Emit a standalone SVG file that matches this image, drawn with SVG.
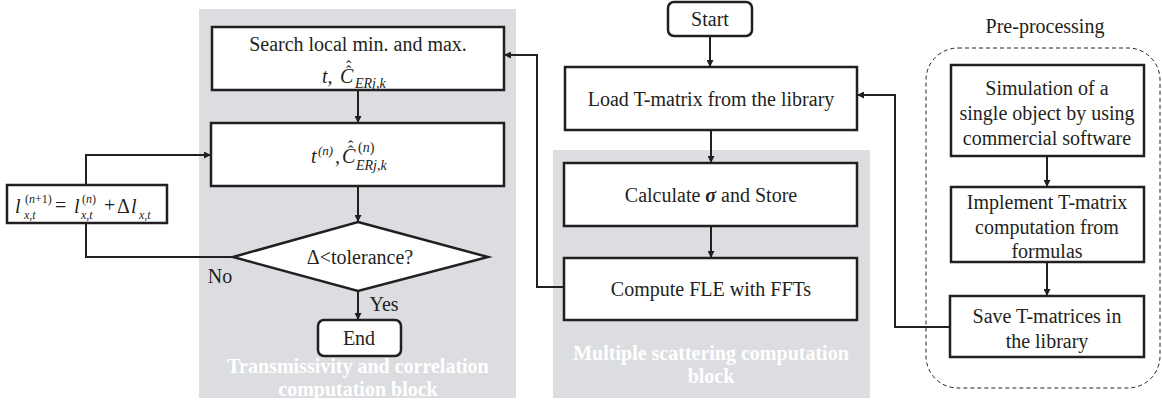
<svg xmlns="http://www.w3.org/2000/svg" width="1162" height="404" viewBox="0 0 1162 404">
<defs>
<marker id="ah" viewBox="0 0 10 10" refX="10" refY="5" markerWidth="7" markerHeight="7" markerUnits="userSpaceOnUse" orient="auto">
<path d="M0,0 L10,5 L0,10 z" fill="#231f20"/>
</marker>
<style>
.blk{fill:#dcdde0;}
.box{fill:#fff;stroke:#231f20;stroke-width:2.5;}
.t{font-family:"Liberation Serif","Times New Roman",serif;font-size:20px;fill:#231f20;text-anchor:middle;}
.m{font-family:"Liberation Serif","Times New Roman",serif;font-style:italic;font-size:20px;fill:#231f20;}
.lbl{font-family:"Liberation Serif","Times New Roman",serif;font-weight:bold;font-size:20px;fill:#fff;text-anchor:middle;}
.c{fill:none;stroke:#231f20;stroke-width:2;}
</style>
</defs>
<rect id="block-transmissivity" class="blk" x="199" y="9" width="317" height="389"/>
<rect id="block-scattering" class="blk" x="553" y="150" width="317" height="248"/>
<text class="lbl" x="358" y="373">Transmissivity and correlation</text>
<text class="lbl" x="358" y="396">computation  block</text>
<text class="lbl" x="711" y="360">Multiple scattering computation</text>
<text class="lbl" x="711" y="383">block</text>
<g id="preprocessing">
<rect x="926" y="48" width="234" height="340" rx="32" fill="none" stroke="#231f20" stroke-width="1" stroke-dasharray="4 3"/>
<text class="t" x="1045" y="33">Pre-processing</text>
</g>
<g id="connectors">
<line class="c" x1="358" y1="90" x2="358" y2="123" marker-end="url(#ah)"/>
<line class="c" x1="358" y1="186" x2="358" y2="222" marker-end="url(#ah)"/>
<line class="c" x1="358" y1="291" x2="358" y2="320" marker-end="url(#ah)"/>
<polyline class="c" points="233,257 86,257 86,223"/>
<polyline class="c" points="86,185 86,155 211,155" marker-end="url(#ah)"/>
<line class="c" x1="710" y1="36" x2="710" y2="67" marker-end="url(#ah)"/>
<line class="c" x1="711" y1="130" x2="711" y2="163" marker-end="url(#ah)"/>
<line class="c" x1="711" y1="226" x2="711" y2="258" marker-end="url(#ah)"/>
<polyline class="c" points="564,287 537,287 537,55 504,55" marker-end="url(#ah)"/>
<polyline class="c" points="950,327 895,327 895,95 857,95" marker-end="url(#ah)"/>
<line class="c" x1="1047" y1="156" x2="1047" y2="187" marker-end="url(#ah)"/>
<line class="c" x1="1047" y1="262" x2="1047" y2="296" marker-end="url(#ah)"/>
<text class="t" x="220" y="283">No</text>
<text class="t" x="384" y="311">Yes</text>
</g>
<g id="search">
<rect class="box" x="212" y="27" width="292" height="63"/>
<text class="t" x="358" y="51">Search local min. and max.</text>
<text class="m"><tspan x="322" y="83">t,</tspan><tspan x="340" y="83">C</tspan><tspan x="346" y="77" font-style="normal" font-size="16">ˆ</tspan><tspan x="346" y="72" font-style="normal" font-size="16">ˆ</tspan><tspan x="355" y="88" font-size="14">ERj,k</tspan></text>
</g>
<g id="update">
<rect class="box" x="211" y="123" width="293" height="63"/>
<text class="m"><tspan x="311" y="163">t</tspan><tspan x="318" y="155" font-size="13">(n)</tspan><tspan x="335" y="163">,</tspan><tspan x="342" y="163">C</tspan><tspan x="348" y="157" font-style="normal" font-size="16">ˆ</tspan><tspan x="348" y="152" font-style="normal" font-size="16">ˆ</tspan><tspan x="358" y="152" font-size="14"><tspan font-style="normal">(</tspan>n<tspan font-style="normal">)</tspan></tspan><tspan x="356" y="170" font-size="14">ERj,k</tspan></text>
</g>
<g id="formula">
<rect class="box" x="7" y="185" width="160" height="38"/>
<text class="m"><tspan x="15" y="213">l</tspan><tspan x="25" y="203" font-size="12"><tspan font-style="normal">(</tspan>n<tspan font-style="normal">+1)</tspan></tspan><tspan x="24" y="219" font-size="12">x,t</tspan><tspan x="55" y="212" font-style="normal">=</tspan><tspan x="74" y="213">l</tspan><tspan x="82" y="203" font-size="12"><tspan font-style="normal">(</tspan>n<tspan font-style="normal">)</tspan></tspan><tspan x="81" y="219" font-size="12">x,t</tspan><tspan x="104" y="212" font-style="normal">+</tspan><tspan x="117" y="213" font-style="normal">Δ</tspan><tspan x="131" y="213">l</tspan><tspan x="139" y="219" font-size="12">x,t</tspan></text>
</g>
<g id="decision">
<polygon class="box" points="358,222 488,257 358,291 233,257"/>
<text class="t" x="360" y="264">Δ&lt;tolerance?</text>
</g>
<g id="end">
<rect class="box" x="318" y="320" width="83" height="36" rx="6"/>
<text class="t" x="359" y="345">End</text>
</g>
<g id="start">
<rect class="box" x="668" y="2" width="84" height="34" rx="6"/>
<text class="t" x="710" y="26">Start</text>
</g>
<g id="load">
<rect class="box" x="565" y="67" width="292" height="63"/>
<text class="t" x="711" y="106">Load T-matrix from the library</text>
</g>
<g id="calculate">
<rect class="box" x="564" y="163" width="293" height="63"/>
<text class="t" x="711" y="202">Calculate <tspan font-weight="bold" font-style="italic">σ</tspan> and Store</text>
</g>
<g id="compute">
<rect class="box" x="564" y="258" width="293" height="62"/>
<text class="t" x="711" y="296">Compute FLE with FFTs</text>
</g>
<g id="simulation">
<rect class="box" x="951" y="65" width="193" height="91"/>
<text class="t" x="1047" y="95">Simulation of a</text>
<text class="t" x="1047" y="120">single object by using</text>
<text class="t" x="1047" y="145">commercial software</text>
</g>
<g id="implement">
<rect class="box" x="951" y="187" width="193" height="75"/>
<text class="t" x="1047" y="209">Implement T-matrix</text>
<text class="t" x="1047" y="234">computation from</text>
<text class="t" x="1047" y="258">formulas</text>
</g>
<g id="save">
<rect class="box" x="950" y="296" width="194" height="61"/>
<text class="t" x="1047" y="323">Save T-matrices in</text>
<text class="t" x="1047" y="348">the library</text>
</g>
</svg>
